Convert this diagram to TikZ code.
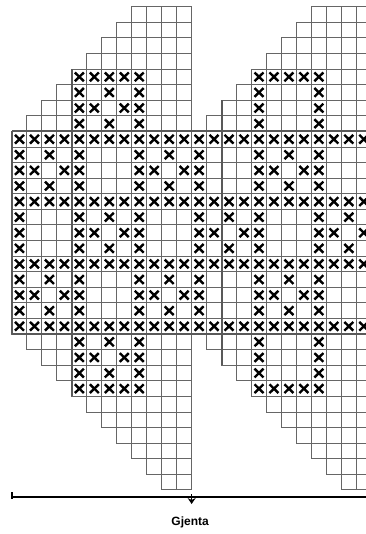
\documentclass[tikz,border=0pt]{standalone}
\usepackage{fontspec}
\setsansfont{Liberation Sans}
\usetikzlibrary{arrows.meta,positioning}

\begin{document}
\begin{tikzpicture}[
  x=14.97pt, y=-15.59pt,
  cell/.style={draw=black!60, line width=1pt},
  rand/.style={draw=black!65, line width=2pt},
  kryss/.pic={\draw[line width=2.4pt, black] (-0.3,-0.28) -- (0.3,0.28) (-0.3,0.28) -- (0.3,-0.28);},
  rapport/.style={line width=1.5pt},
  lbl/.style={font=\sffamily\bfseries\fontsize{12}{14}\selectfont}
]
\path[use as bounding box] (-0.8016,-0.4298) rectangle (23.647,33.823);
\clip (-0.8016,-0.4298) rectangle (23.647,33.823);

% rutenett, to rapporter a 12 masker
\foreach \r in {0,...,30}{
  \pgfmathtruncatemacro\s{max(8-\r,\r-20,0)}
  \foreach \c in {\s,...,11}{
    \draw[cell] (\c,\r) rectangle ++(1,1);
    \draw[cell] (\c+12,\r) rectangle ++(1,1);
  }
}
\draw[rand] (0,8) -- (0,21);
\draw[rand] (4,4) -- (4,25);
\draw[rand] (14,6) -- (14,23);
\draw[rand] (0,8) -- (24,8);
\draw[rand] (0,21) -- (24,21);

% kryss
\foreach \r in {4,24}
  \foreach \c in {4,...,8}{
    \pic at (\c+0.5,\r+0.5) {kryss};
    \pic at (\c+12.5,\r+0.5) {kryss};
  }
\foreach \r in {5,6,7,21,22,23}
  \foreach \c in {4,8,16,20}
    \pic at (\c+0.5,\r+0.5) {kryss};
\foreach \r in {8,12,16,20}
  \foreach \c in {0,...,23}
    \pic at (\c+0.5,\r+0.5) {kryss};
\foreach \r in {9,10,11,13,14,15,17,18,19}
  \foreach \c in {0,4,...,20}
    \pic at (\c+0.5,\r+0.5) {kryss};
\foreach \c/\t in {4/5,4/21,0/9,8/9,16/9,4/13,12/13,20/13,0/17,8/17,16/17}
  \foreach \dx/\dy in {2/0,1/1,3/1,2/2}
    \pic at (\c+\dx+0.5,\t+\dy+0.5) {kryss};

% rapportlinje
\coordinate (repL) at (0,31.45);
\coordinate (repM) at (12,31.45);
\coordinate (repR) at (24,31.45);
\draw[rapport] (repL) -- (repR);
\draw[line width=1.2pt] ([yshift=5pt]repL) -- ([yshift=-2pt]repL);
\draw[line width=1.2pt, -{Stealth[length=6pt,width=8pt]}] ([yshift=3pt]repM) -- ([yshift=-7pt]repM);
\node[lbl, below=16pt of repM, xshift=-1.5pt] (gjenta) {Gjenta};
\end{tikzpicture}
\end{document}
